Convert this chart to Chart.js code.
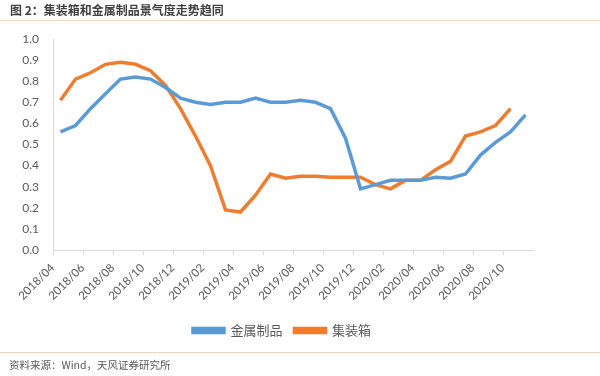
<!DOCTYPE html>
<html>
<head>
<meta charset="utf-8">
<script src="https://cdn.jsdelivr.net/npm/chart.js@4.4.1/dist/chart.umd.min.js"></script>
<style>
  html, body { margin: 0; padding: 0; background: #fff; }
  #wrap { position: relative; width: 600px; height: 376px; overflow: hidden; }
  #title { position: absolute; left: 10px; top: 1px; font: bold 12px/18px "Noto Sans CJK SC", sans-serif; color: #404040; }
  .rule { position: absolute; left: 0; width: 600px; height: 1px; background: #f2d6bf; }
  #source { position: absolute; left: 9px; top: 357px; font: 10.5px/16px "Noto Sans CJK SC", sans-serif; color: #595959; }
  #c { position: absolute; left: 0; top: 0; }
</style>
</head>
<body>
<div id="wrap">
  <canvas id="c" width="600" height="376"></canvas>
  <div id="title">图 2：集装箱和金属制品景气度走势趋同</div>
  <div class="rule" style="top:20px"></div>
  <div class="rule" style="top:352px"></div>
  <div id="source">资料来源：Wind，天风证券研究所</div>
</div>
<script>
// months, 2018/04 .. 2020/11
const months = [
    '2018/04', '2018/05', '2018/06', '2018/07', '2018/08', '2018/09', '2018/10', '2018/11', '2018/12',
    '2019/01', '2019/02', '2019/03', '2019/04', '2019/05', '2019/06', '2019/07', '2019/08', '2019/09',
    '2019/10', '2019/11', '2019/12',
    '2020/01', '2020/02', '2020/03', '2020/04', '2020/05', '2020/06', '2020/07', '2020/08', '2020/09',
    '2020/10', '2020/11'
];

// 金属制品
const metalValues = [
    0.56, 0.59, 0.67, 0.74, 0.81, 0.82, 0.81, 0.77, 0.72,
    0.70, 0.69, 0.70, 0.70, 0.72, 0.70, 0.70, 0.71, 0.70,
    0.67, 0.53, 0.29,
    0.31, 0.33, 0.33, 0.33, 0.345, 0.34, 0.36, 0.45, 0.51,
    0.56, 0.64
];

// 集装箱
const containerValues = [
    0.71, 0.81, 0.84, 0.88, 0.89, 0.88, 0.85, 0.78, 0.67,
    0.54, 0.40, 0.19, 0.18, 0.26, 0.36, 0.34, 0.35, 0.35,
    0.345, 0.345, 0.345,
    0.31, 0.29, 0.33, 0.33, 0.38, 0.42, 0.54, 0.56, 0.59,
    0.67, null
];

const yTicks = [0, 0.1, 0.2, 0.3, 0.4, 0.5, 0.6, 0.7, 0.8, 0.9, 1.0];

const blue = '#5b9bd5';
const orange = '#ed7d31';
const axisColor = '#d9d9d9';
const textColor = '#595959';

var ctx = document.getElementById('c').getContext('2d');
var chart = new Chart(ctx, {
    type: 'line',
    data: {
        labels: months,
        datasets: [{
            label: '金属制品',
            data: metalValues,
            borderColor: blue,
            backgroundColor: blue,
            borderWidth: 3.5,
            pointRadius: 0,
            tension: 0
        }, {
            label: '集装箱',
            data: containerValues,
            borderColor: orange,
            backgroundColor: orange,
            borderWidth: 3.5,
            pointRadius: 0,
            tension: 0
        }]
    },
    options: {
        responsive: false,
        animation: false,
        layout: { padding: { left: 0, right: 36, top: 39, bottom: 29 } },
        plugins: {
            legend: {
                position: 'bottom',
                labels: {
                    boxWidth: 31,
                    boxHeight: 4,
                    padding: 12,
                    color: textColor,
                    font: { family: '"Noto Sans CJK SC", sans-serif', size: 13 }
                }
            },
            tooltip: { enabled: false }
        },
        scales: {
            x: {
                offset: true,
                grid: {
                    offset: true,
                    drawOnChartArea: false,
                    tickLength: 5,
                    color: (c) => c.index % 2 === 0 ? axisColor : 'rgba(0,0,0,0)'
                },
                border: { color: axisColor, width: 1 },
                ticks: {
                    autoSkip: false,
                    maxRotation: 45,
                    minRotation: 45,
                    labelOffset: -8,
                    padding: 6,
                    color: textColor,
                    font: { family: 'Lato, sans-serif', size: 11.5 },
                    callback: (v, i) => i % 2 === 0 ? months[i] : ''
                },
                afterFit: (s) => { s.height = 62; }
            },
            y: {
                min: 0,
                max: 1,
                afterBuildTicks: (s) => { s.ticks = yTicks.map(v => ({ value: v })); },
                grid: { drawOnChartArea: false, drawTicks: false },
                border: { color: axisColor, width: 1 },
                ticks: {
                    padding: 14,
                    color: textColor,
                    font: { family: 'Lato, sans-serif', size: 12 },
                    callback: (v) => v.toFixed(1)
                },
                afterFit: (s) => { s.width = 53; }
            },
            // empty spacer on the right so the legend sits where it does in the original
            yRight: {
                position: 'right',
                grid: { display: false },
                border: { display: false },
                ticks: { display: false },
                afterFit: (s) => { s.width = 31; }
            }
        }
    }
});
</script>
</body>
</html>
